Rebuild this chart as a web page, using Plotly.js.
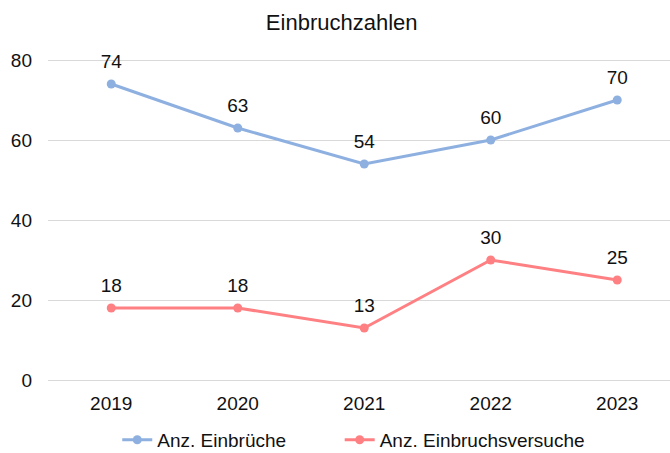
<!DOCTYPE html>
<html><head><meta charset="utf-8">
<script src="https://cdn.plot.ly/plotly-3.0.1.min.js"></script>
<style>html,body{margin:0;padding:0;background:#fff}</style>
</head><body><div id="chart" style="width:670px;height:453px"></div>
<script>
const years = ['2019','2020','2021','2022','2023'];
const einbrueche = [74, 63, 54, 60, 70];
const versuche = [18, 18, 13, 30, 25];
const seriesNames = ['Anz. Einbrüche', 'Anz. Einbruchsversuche'];

const font = 'Liberation Sans, Arial, sans-serif';
const mk = (y, name, color, legend) => ({
  x: years, y: y, name: name, type: 'scatter', mode: 'lines+markers',
  line: {color: color, width: 3},
  marker: {color: color, size: 9},
  cliponaxis: false, legend: legend
});
const lbl = (y, name) => ({
  x: years, y: y, name: name, type: 'scatter', mode: 'markers+text',
  text: y.map(String), textposition: 'top center',
  textfont: {family: font, size: 19, color: '#111'},
  marker: {size: 17, opacity: 0, color: '#fff'},
  showlegend: false, hoverinfo: 'skip', cliponaxis: false
});
const data = [
  mk(einbrueche, seriesNames[0], '#8eb0e0', 'legend'),
  mk(versuche, seriesNames[1], '#ff8083', 'legend2'),
  lbl(einbrueche, seriesNames[0]),
  lbl(versuche, seriesNames[1])
];
const legBase = {orientation: 'h', xanchor: 'left', xref: 'container', y: 0.029, yanchor: 'middle', yref: 'container',
  font: {family: font, size: 19, color: '#111'}, itemwidth: 30, bgcolor: 'rgba(0,0,0,0)'};
const layout = {
  width: 670, height: 453,
  margin: {l: 48, r: 0, t: 56, b: 69, autoexpand: false},
  paper_bgcolor: '#fff', plot_bgcolor: '#fff',
  font: {family: font, size: 19, color: '#111'},
  title: {text: 'Einbruchzahlen', x: 0.51, xanchor: 'center', y: 0.951, yanchor: 'middle', yref: 'container', font: {family: font, size: 22, color: '#111'}},
  xaxis: {type: 'category', range: [-0.5, 4.417], showgrid: false, zeroline: false, showline: false,
          ticks: '', ticklabelstandoff: 6, tickfont: {size: 19}},
  yaxis: {range: [-1, 81], tickvals: [0, 20, 40, 60, 80], showgrid: true, gridcolor: '#d9d9d9', gridwidth: 1,
          zeroline: false, showline: false, ticks: '', ticklabelstandoff: 15, tickfont: {size: 19}},
  showlegend: true,
  legend: Object.assign({}, legBase, {x: 0.175}),
  legend2: Object.assign({}, legBase, {x: 0.507})
};
Plotly.newPlot('chart', data, layout, {displayModeBar: false, staticPlot: true});
</script></body></html>
